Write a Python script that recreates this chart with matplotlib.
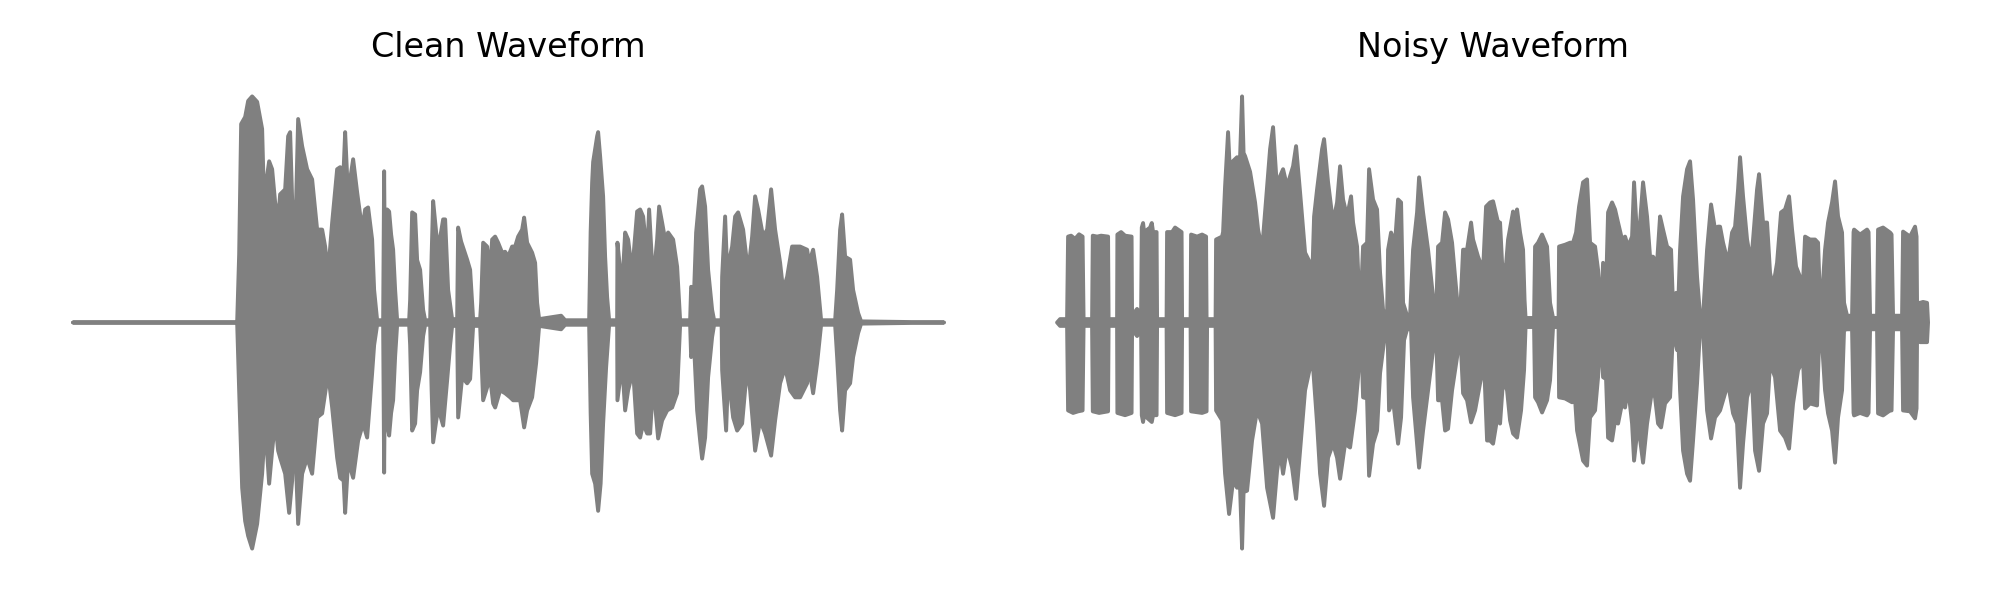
import numpy as np
import matplotlib
matplotlib.use("Agg")
import matplotlib.pyplot as plt

# Envelope of each waveform: (time in s, amplitude)
clean_upper = [
    (0.00, 0.0), (1.64, 0.0), (1.66, 0.30), (1.68, 0.878), (1.72, 0.909), (1.75, 0.98),
    (1.79, 1.00), (1.84, 0.976), (1.89, 0.856), (1.905, 0.602), (1.93, 0.62), (1.96, 0.713),
    (1.99, 0.678), (2.02, 0.531), (2.05, 0.456), (2.07, 0.567), (2.12, 0.589), (2.15, 0.824),
    (2.17, 0.842), (2.19, 0.544), (2.205, 0.367), (2.23, 0.544), (2.25, 0.90), (2.29, 0.78),
    (2.34, 0.678), (2.39, 0.633), (2.44, 0.411), (2.49, 0.411), (2.52, 0.336), (2.55, 0.22),
    (2.59, 0.442), (2.64, 0.678), (2.67, 0.687), (2.705, 0.678), (2.72, 0.842), (2.74, 0.647),
    (2.77, 0.633), (2.80, 0.722), (2.84, 0.576), (2.89, 0.411), (2.92, 0.50), (2.95, 0.509),
    (2.99, 0.367), (3.01, 0.144), (3.04, 0.01), (3.10, 0.01), (3.11, 0.669), (3.12, 0.10),
    (3.14, 0.50), (3.16, 0.491), (3.18, 0.389), (3.20, 0.322), (3.22, 0.144), (3.24, 0.01),
    (3.36, 0.01), (3.37, 0.10), (3.39, 0.487), (3.42, 0.478), (3.44, 0.276), (3.47, 0.233),
    (3.50, 0.056), (3.52, 0.01), (3.57, 0.01), (3.585, 0.30), (3.60, 0.537), (3.63, 0.40),
    (3.65, 0.322), (3.70, 0.456), (3.72, 0.456), (3.75, 0.144), (3.79, 0.015), (3.84, 0.015),
    (3.85, 0.42), (3.88, 0.358), (3.94, 0.278), (3.97, 0.233), (4.00, 0.015), (4.07, 0.015),
    (4.08, 0.087), (4.10, 0.353), (4.14, 0.336), (4.17, 0.22), (4.19, 0.367), (4.22, 0.38),
    (4.25, 0.353), (4.29, 0.309), (4.32, 0.313), (4.35, 0.291), (4.39, 0.336), (4.42, 0.336),
    (4.45, 0.38), (4.49, 0.411), (4.51, 0.464), (4.54, 0.353), (4.59, 0.309), (4.62, 0.264),
    (4.64, 0.087), (4.66, 0.015), (4.88, 0.03), (4.92, 0.01), (5.16, 0.01), (5.175, 0.40),
    (5.19, 0.62), (5.20, 0.71), (5.24, 0.824), (5.25, 0.842), (5.27, 0.736), (5.30, 0.558),
    (5.32, 0.291), (5.34, 0.113), (5.36, 0.01), (5.44, 0.01), (5.443, 0.353), (5.46, 0.278),
    (5.49, 0.144), (5.52, 0.398), (5.55, 0.367), (5.59, 0.22), (5.64, 0.491), (5.67, 0.50),
    (5.70, 0.469), (5.74, 0.291), (5.76, 0.50), (5.80, 0.176), (5.84, 0.367), (5.86, 0.513),
    (5.89, 0.442), (5.92, 0.367), (5.95, 0.398), (6.00, 0.367), (6.04, 0.247), (6.07, 0.01),
    (6.17, 0.01), (6.18, 0.158), (6.21, 0.144), (6.23, 0.398), (6.27, 0.589), (6.29, 0.602),
    (6.32, 0.513), (6.35, 0.233), (6.39, 0.056), (6.41, 0.01), (6.485, 0.01), (6.49, 0.202),
    (6.52, 0.469), (6.54, 0.233), (6.59, 0.336), (6.62, 0.469), (6.65, 0.487), (6.70, 0.411),
    (6.75, 0.22), (6.79, 0.38), (6.82, 0.558), (6.85, 0.50), (6.90, 0.38), (6.94, 0.411),
    (6.98, 0.589), (7.02, 0.411), (7.07, 0.264), (7.10, 0.144), (7.14, 0.202), (7.19, 0.336),
    (7.24, 0.336), (7.27, 0.336), (7.34, 0.322), (7.36, 0.264), (7.40, 0.322), (7.44, 0.202),
    (7.48, 0.01), (7.62, 0.01), (7.64, 0.144), (7.67, 0.411), (7.69, 0.478), (7.72, 0.291),
    (7.77, 0.278), (7.80, 0.144), (7.85, 0.042), (7.88, 0.005), (8.71, 0.0),
]

clean_lower = [
    (0.00, 0.0), (1.64, 0.0), (1.66, -0.30), (1.69, -0.731), (1.72, -0.878), (1.75, -0.944),
    (1.79, -1.00), (1.84, -0.891), (1.89, -0.669), (1.92, -0.447), (1.96, -0.713), (1.99, -0.567),
    (2.02, -0.433), (2.05, -0.567), (2.07, -0.598), (2.12, -0.669), (2.16, -0.842), (2.19, -0.70),
    (2.21, -0.42), (2.23, -0.65), (2.25, -0.891), (2.29, -0.669), (2.34, -0.598), (2.39, -0.669),
    (2.44, -0.42), (2.49, -0.402), (2.55, -0.224), (2.59, -0.376), (2.64, -0.598), (2.67, -0.687),
    (2.705, -0.70), (2.72, -0.842), (2.75, -0.611), (2.80, -0.687), (2.85, -0.522), (2.90, -0.447),
    (2.94, -0.509), (2.99, -0.224), (3.01, -0.10), (3.04, -0.01), (3.10, -0.01), (3.11, -0.664),
    (3.12, -0.10), (3.14, -0.45), (3.16, -0.50), (3.18, -0.40), (3.20, -0.344), (3.22, -0.15),
    (3.24, -0.01), (3.36, -0.01), (3.37, -0.10), (3.39, -0.478), (3.42, -0.447), (3.44, -0.30),
    (3.47, -0.22), (3.50, -0.06), (3.52, -0.01), (3.57, -0.01), (3.585, -0.30), (3.60, -0.53),
    (3.65, -0.376), (3.70, -0.456), (3.74, -0.256), (3.77, -0.10), (3.79, -0.015), (3.84, -0.015),
    (3.85, -0.42), (3.89, -0.242), (3.94, -0.269), (3.97, -0.25), (4.00, -0.015), (4.07, -0.015),
    (4.08, -0.122), (4.10, -0.344), (4.14, -0.287), (4.17, -0.242), (4.20, -0.358), (4.22, -0.376),
    (4.27, -0.30), (4.32, -0.313), (4.37, -0.331), (4.40, -0.344), (4.47, -0.344), (4.51, -0.464),
    (4.54, -0.389), (4.59, -0.331), (4.63, -0.18), (4.66, -0.015), (4.88, -0.03), (4.92, -0.01),
    (5.16, -0.01), (5.175, -0.40), (5.19, -0.669), (5.22, -0.713), (5.25, -0.833), (5.275, -0.713),
    (5.30, -0.447), (5.33, -0.198), (5.36, -0.01), (5.44, -0.01), (5.443, -0.344), (5.49, -0.18),
    (5.52, -0.389), (5.55, -0.30), (5.60, -0.211), (5.64, -0.491), (5.67, -0.509), (5.70, -0.447),
    (5.74, -0.491), (5.77, -0.491), (5.80, -0.269), (5.85, -0.513), (5.89, -0.433), (5.94, -0.389),
    (5.99, -0.376), (6.04, -0.313), (6.07, -0.01), (6.17, -0.01), (6.18, -0.153), (6.21, -0.109),
    (6.24, -0.389), (6.27, -0.522), (6.29, -0.602), (6.32, -0.509), (6.35, -0.242), (6.39, -0.064),
    (6.41, -0.01), (6.485, -0.01), (6.49, -0.211), (6.53, -0.478), (6.55, -0.224), (6.60, -0.42),
    (6.64, -0.478), (6.69, -0.447), (6.74, -0.198), (6.77, -0.30), (6.82, -0.567), (6.87, -0.433),
    (6.92, -0.491), (6.98, -0.589), (7.02, -0.433), (7.07, -0.269), (7.12, -0.198), (7.17, -0.30),
    (7.22, -0.331), (7.27, -0.331), (7.34, -0.269), (7.36, -0.198), (7.40, -0.313), (7.44, -0.18),
    (7.48, -0.01), (7.62, -0.01), (7.64, -0.153), (7.67, -0.389), (7.69, -0.478), (7.72, -0.30),
    (7.77, -0.269), (7.80, -0.153), (7.85, -0.047), (7.88, -0.005), (8.71, 0.0),
]

noisy_upper = [
    (0.00, 0.0), (0.03, 0.015), (0.10, 0.015), (0.11, 0.38), (0.14, 0.384), (0.18, 0.37),
    (0.22, 0.39), (0.255, 0.38), (0.265, 0.015), (0.35, 0.015), (0.357, 0.384), (0.40, 0.38),
    (0.44, 0.384), (0.51, 0.38), (0.515, 0.015), (0.60, 0.015), (0.603, 0.389), (0.64, 0.40),
    (0.68, 0.384), (0.745, 0.38), (0.75, 0.03), (0.80, 0.06), (0.84, 0.03), (0.847, 0.42),
    (0.86, 0.44), (0.87, 0.40), (0.93, 0.42), (0.947, 0.44), (0.96, 0.40), (0.995, 0.40),
    (1.00, 0.015), (1.095, 0.015), (1.10, 0.40), (1.15, 0.40), (1.18, 0.42), (1.245, 0.40),
    (1.25, 0.015), (1.335, 0.015), (1.34, 0.389), (1.40, 0.38), (1.45, 0.389), (1.49, 0.38),
    (1.495, 0.015), (1.585, 0.015), (1.59, 0.367), (1.65, 0.38), (1.66, 0.40), (1.68, 0.602),
    (1.71, 0.842), (1.73, 0.65), (1.75, 0.71), (1.80, 0.731), (1.82, 0.60), (1.85, 1.00),
    (1.865, 0.75), (1.88, 0.736), (1.93, 0.667), (1.98, 0.531), (2.01, 0.411), (2.05, 0.322),
    (2.09, 0.544), (2.13, 0.767), (2.16, 0.864), (2.20, 0.589), (2.23, 0.647), (2.26, 0.678),
    (2.30, 0.602), (2.33, 0.647), (2.36, 0.691), (2.39, 0.78), (2.43, 0.576), (2.48, 0.309),
    (2.53, 0.264), (2.55, 0.176), (2.57, 0.469), (2.60, 0.589), (2.65, 0.767), (2.67, 0.811),
    (2.71, 0.62), (2.76, 0.442), (2.80, 0.531), (2.83, 0.691), (2.86, 0.544), (2.90, 0.469),
    (2.94, 0.558), (2.96, 0.442), (3.00, 0.336), (3.03, 0.024), (3.06, 0.336), (3.10, 0.353),
    (3.12, 0.678), (3.16, 0.544), (3.20, 0.50), (3.23, 0.22), (3.26, 0.056), (3.30, 0.03),
    (3.31, 0.322), (3.34, 0.398), (3.38, 0.353), (3.41, 0.544), (3.44, 0.531), (3.46, 0.087),
    (3.50, 0.03), (3.53, 0.03), (3.56, 0.322), (3.60, 0.487), (3.62, 0.642), (3.66, 0.487),
    (3.71, 0.322), (3.76, 0.113), (3.79, 0.03), (3.81, 0.336), (3.85, 0.353), (3.88, 0.487),
    (3.91, 0.456), (3.95, 0.353), (3.98, 0.202), (4.01, 0.056), (4.03, 0.03), (4.06, 0.322),
    (4.10, 0.322), (4.14, 0.442), (4.16, 0.367), (4.21, 0.291), (4.26, 0.233), (4.29, 0.513),
    (4.33, 0.531), (4.36, 0.536), (4.41, 0.442), (4.43, 0.442), (4.45, 0.264), (4.48, 0.202),
    (4.51, 0.367), (4.56, 0.491), (4.58, 0.45), (4.60, 0.50), (4.63, 0.398), (4.66, 0.322),
    (4.675, 0.10), (4.685, 0.02), (4.77, 0.02), (4.78, 0.336), (4.81, 0.353), (4.85, 0.389),
    (4.90, 0.336), (4.93, 0.087), (4.96, 0.02), (5.015, 0.02), (5.02, 0.336), (5.08, 0.344),
    (5.13, 0.353), (5.16, 0.353), (5.19, 0.398), (5.22, 0.513), (5.26, 0.62), (5.30, 0.633),
    (5.33, 0.353), (5.38, 0.336), (5.41, 0.233), (5.44, 0.03), (5.46, 0.264), (5.49, 0.144),
    (5.51, 0.487), (5.55, 0.531), (5.58, 0.50), (5.61, 0.442), (5.65, 0.367), (5.68, 0.38),
    (5.71, 0.336), (5.75, 0.38), (5.77, 0.62), (5.80, 0.38), (5.83, 0.442), (5.86, 0.62),
    (5.90, 0.469), (5.93, 0.291), (5.96, 0.291), (6.00, 0.264), (6.03, 0.469), (6.06, 0.411),
    (6.10, 0.336), (6.14, 0.322), (6.16, 0.069), (6.19, 0.131), (6.21, 0.056), (6.23, 0.322),
    (6.26, 0.558), (6.30, 0.678), (6.33, 0.713), (6.36, 0.544), (6.40, 0.202), (6.43, 0.03),
    (6.46, 0.03), (6.50, 0.322), (6.54, 0.522), (6.58, 0.411), (6.61, 0.424), (6.63, 0.424),
    (6.66, 0.353), (6.71, 0.264), (6.75, 0.398), (6.78, 0.424), (6.81, 0.589), (6.83, 0.731),
    (6.86, 0.558), (6.90, 0.367), (6.94, 0.264), (6.96, 0.367), (7.00, 0.589), (7.02, 0.656),
    (7.06, 0.442), (7.10, 0.442), (7.13, 0.22), (7.16, 0.158), (7.20, 0.264), (7.24, 0.487),
    (7.28, 0.50), (7.32, 0.558), (7.35, 0.411), (7.39, 0.247), (7.43, 0.202), (7.46, 0.176),
    (7.48, 0.38), (7.53, 0.367), (7.58, 0.367), (7.61, 0.353), (7.63, 0.087), (7.65, 0.113),
    (7.68, 0.322), (7.71, 0.442), (7.75, 0.531), (7.78, 0.624), (7.81, 0.469), (7.85, 0.398),
    (7.87, 0.087), (7.90, 0.03), (7.95, 0.03), (7.965, 0.40), (7.97, 0.411), (8.03, 0.389),
    (8.10, 0.411), (8.115, 0.40), (8.13, 0.03), (8.20, 0.03), (8.21, 0.411), (8.26, 0.42),
    (8.33, 0.398), (8.345, 0.39), (8.36, 0.03), (8.45, 0.03), (8.46, 0.402), (8.53, 0.38),
    (8.58, 0.424), (8.595, 0.38), (8.60, 0.087), (8.63, 0.087), (8.66, 0.091), (8.70, 0.087),
    (8.71, 0.0),
]

noisy_lower = [
    (0.00, 0.0), (0.03, -0.015), (0.10, -0.015), (0.11, -0.389), (0.16, -0.40), (0.21, -0.393),
    (0.255, -0.389), (0.265, -0.015), (0.35, -0.015), (0.357, -0.393), (0.42, -0.40), (0.51, -0.393),
    (0.515, -0.015), (0.60, -0.015), (0.603, -0.40), (0.68, -0.41), (0.745, -0.40), (0.75, -0.03),
    (0.80, -0.06), (0.84, -0.03), (0.847, -0.41), (0.86, -0.44), (0.87, -0.41), (0.947, -0.44),
    (0.96, -0.41), (0.995, -0.41), (1.00, -0.015), (1.095, -0.015), (1.10, -0.40), (1.18, -0.41),
    (1.245, -0.40), (1.25, -0.015), (1.335, -0.015), (1.34, -0.393), (1.45, -0.40), (1.495, -0.393),
    (1.50, -0.015), (1.585, -0.015), (1.59, -0.389), (1.65, -0.433), (1.68, -0.669), (1.72, -0.847),
    (1.76, -0.70), (1.80, -0.731), (1.82, -0.60), (1.85, -1.00), (1.865, -0.75), (1.90, -0.744),
    (1.95, -0.522), (2.00, -0.389), (2.05, -0.447), (2.10, -0.731), (2.16, -0.864), (2.20, -0.656),
    (2.23, -0.567), (2.26, -0.669), (2.30, -0.553), (2.35, -0.642), (2.39, -0.78), (2.43, -0.567),
    (2.48, -0.30), (2.53, -0.198), (2.56, -0.198), (2.60, -0.447), (2.63, -0.669), (2.67, -0.811),
    (2.71, -0.598), (2.76, -0.536), (2.80, -0.598), (2.83, -0.691), (2.88, -0.536), (2.93, -0.553),
    (2.98, -0.389), (3.01, -0.242), (3.04, -0.033), (3.06, -0.331), (3.10, -0.336), (3.12, -0.678),
    (3.16, -0.536), (3.20, -0.478), (3.23, -0.224), (3.28, -0.047), (3.305, -0.033), (3.32, -0.389),
    (3.36, -0.344), (3.41, -0.536), (3.44, -0.42), (3.47, -0.078), (3.50, -0.03), (3.54, -0.03),
    (3.56, -0.331), (3.62, -0.642), (3.66, -0.478), (3.71, -0.30), (3.76, -0.122), (3.79, -0.03),
    (3.81, -0.344), (3.85, -0.344), (3.88, -0.478), (3.91, -0.47), (3.95, -0.30), (4.00, -0.153),
    (4.03, -0.03), (4.06, -0.313), (4.10, -0.344), (4.14, -0.442), (4.18, -0.389), (4.23, -0.269),
    (4.27, -0.18), (4.30, -0.522), (4.33, -0.522), (4.36, -0.536), (4.41, -0.402), (4.43, -0.447),
    (4.46, -0.256), (4.50, -0.30), (4.53, -0.433), (4.56, -0.491), (4.60, -0.509), (4.64, -0.389),
    (4.67, -0.211), (4.685, -0.02), (4.77, -0.02), (4.78, -0.331), (4.81, -0.353), (4.85, -0.398),
    (4.90, -0.344), (4.93, -0.256), (4.96, -0.02), (5.015, -0.02), (5.02, -0.331), (5.08, -0.336),
    (5.15, -0.353), (5.17, -0.269), (5.20, -0.478), (5.26, -0.611), (5.30, -0.633), (5.33, -0.42),
    (5.38, -0.389), (5.41, -0.242), (5.44, -0.03), (5.46, -0.242), (5.49, -0.25), (5.51, -0.509),
    (5.55, -0.522), (5.58, -0.433), (5.61, -0.447), (5.65, -0.358), (5.68, -0.376), (5.71, -0.287),
    (5.75, -0.447), (5.77, -0.611), (5.81, -0.447), (5.86, -0.62), (5.90, -0.447), (5.95, -0.30),
    (5.98, -0.331), (6.01, -0.447), (6.04, -0.464), (6.08, -0.358), (6.13, -0.331), (6.16, -0.033),
    (6.20, -0.122), (6.21, -0.033), (6.23, -0.30), (6.26, -0.567), (6.30, -0.669), (6.33, -0.70),
    (6.36, -0.522), (6.40, -0.269), (6.43, -0.03), (6.46, -0.03), (6.50, -0.389), (6.54, -0.513),
    (6.58, -0.42), (6.61, -0.402), (6.63, -0.389), (6.66, -0.344), (6.71, -0.269), (6.76, -0.402),
    (6.80, -0.447), (6.83, -0.731), (6.86, -0.536), (6.90, -0.331), (6.95, -0.256), (6.98, -0.567),
    (7.02, -0.656), (7.06, -0.447), (7.10, -0.402), (7.13, -0.18), (7.18, -0.242), (7.23, -0.478),
    (7.28, -0.509), (7.32, -0.558), (7.36, -0.358), (7.41, -0.211), (7.46, -0.167), (7.48, -0.38),
    (7.53, -0.358), (7.60, -0.367), (7.62, -0.091), (7.65, -0.091), (7.68, -0.30), (7.71, -0.402),
    (7.75, -0.478), (7.78, -0.62), (7.81, -0.42), (7.85, -0.30), (7.87, -0.033), (7.90, -0.03),
    (7.95, -0.03), (7.965, -0.40), (7.97, -0.411), (8.03, -0.40), (8.10, -0.411), (8.115, -0.40),
    (8.13, -0.03), (8.20, -0.03), (8.21, -0.402), (8.26, -0.411), (8.33, -0.389), (8.345, -0.389),
    (8.36, -0.03), (8.45, -0.03), (8.46, -0.389), (8.53, -0.393), (8.58, -0.424), (8.595, -0.38),
    (8.60, -0.064), (8.63, -0.087), (8.66, -0.087), (8.70, -0.087), (8.71, 0.0),
]

titles = ["Clean Waveform", "Noisy Waveform"]


def draw_wave(ax, upper, lower, title):
    up = np.array(upper)
    lo = np.array(lower)[::-1]
    # outline of the waveform: upper edge forward, lower edge back
    xs = np.concatenate([up[:, 0], lo[:, 0]])
    ys = np.concatenate([up[:, 1], lo[:, 1]])
    ax.fill(xs, ys, facecolor="gray", edgecolor="gray", linewidth=1.4, joinstyle="round")
    ax.set_title(title, fontsize=12)
    ax.axis("off")


fig, axes = plt.subplots(1, 2, figsize=(10, 3), dpi=200)
draw_wave(axes[0], clean_upper, clean_lower, titles[0])
draw_wave(axes[1], noisy_upper, noisy_lower, titles[1])

fig.subplots_adjust(left=0.0148, right=0.9858, wspace=0.027, top=0.877, bottom=0.048)
fig.savefig("out.png")
